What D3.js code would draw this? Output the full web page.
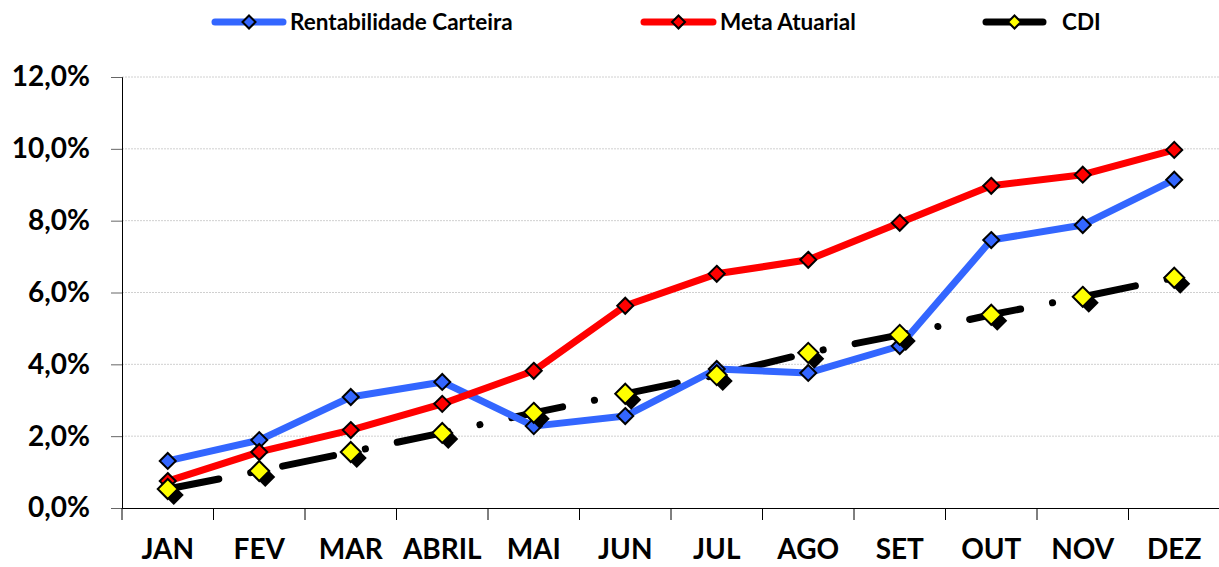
<!DOCTYPE html>
<html>
<head>
<meta charset="utf-8">
<script src="https://cdn.jsdelivr.net/npm/d3@7"></script>
<style>
  body { margin: 0; background: #fff; }
  svg { font-family: Lato, "Open Sans", sans-serif; font-weight: bold; }
</style>
</head>
<body>
<div id="chart"></div>
<script>
// data (percent)
var months = ["JAN", "FEV", "MAR", "ABRIL", "MAI", "JUN", "JUL", "AGO", "SET", "OUT", "NOV", "DEZ"];
var rentabilidade = [1.31, 1.89, 3.09, 3.51, 2.28, 2.56, 3.87, 3.76, 4.51, 7.46, 7.88, 9.14];
var meta = [0.75, 1.56, 2.17, 2.90, 3.82, 5.63, 6.52, 6.91, 7.94, 8.97, 9.28, 9.97];
var cdi = [0.53, 1.03, 1.56, 2.09, 2.65, 3.18, 3.70, 4.32, 4.82, 5.38, 5.88, 6.41];
var yTicks = [0, 2, 4, 6, 8, 10, 12];

var W = 1219, H = 567;
var margin = { top: 77, right: -1, bottom: 59, left: 122 };
var width = W - margin.left - margin.right,
    height = H - margin.top - margin.bottom;

var svg = d3.select("#chart").append("svg")
    .attr("width", W)
    .attr("height", H);

var g = svg.append("g")
    .attr("transform", "translate(" + margin.left + "," + margin.top + ")");

var x = d3.scaleBand().domain(months).range([0, width]);
var y = d3.scaleLinear().domain([0, 12]).range([height, 0]);
var fmt = function(d) { return d.toFixed(1).replace(".", ",") + "%"; };

// gridlines
g.append("g")
    .selectAll("line")
    .data(yTicks.slice(1))
    .enter().append("line")
    .attr("x1", 0).attr("x2", width)
    .attr("y1", function(d) { return y(d); })
    .attr("y2", function(d) { return y(d); })
    .attr("stroke", "#d0d0d0")
    .attr("stroke-dasharray", "2,1");

// y axis
var yAxis = g.append("g")
    .call(d3.axisLeft(y).tickValues(yTicks).tickFormat(fmt).tickSize(11).tickPadding(21));
yAxis.select(".domain").attr("stroke", "#000");
yAxis.selectAll(".tick line").attr("stroke", "#666");
yAxis.selectAll("text").attr("font-size", 28).attr("fill", "#000")
    .attr("font-family", "Lato, sans-serif").attr("font-weight", "bold");

// x axis
var xAxis = g.append("g")
    .attr("transform", "translate(0," + height + ")")
    .call(d3.axisBottom(x).tickSize(0).tickPadding(31));
xAxis.select(".domain").attr("stroke", "#000");
xAxis.selectAll("text").attr("font-size", 28).attr("fill", "#000")
    .attr("font-family", "Lato, sans-serif").attr("font-weight", "bold");
g.append("g")
    .selectAll("line")
    .data(months)
    .enter().append("line")
    .attr("x1", function(d) { return x(d); })
    .attr("x2", function(d) { return x(d); })
    .attr("y1", height).attr("y2", height + 12)
    .attr("stroke", "#000");

var cx = function(d, i) { return x(months[i]) + x.bandwidth() / 2; };
var line = d3.line().x(cx).y(function(d) { return y(d); });
var diamond = function(r) { return "M0," + (-r) + "L" + r + ",0L0," + r + "L" + (-r) + ",0Z"; };

// CDI (dash-dot, with shadowed markers)
g.append("path")
    .datum(cdi)
    .attr("d", line)
    .attr("fill", "none")
    .attr("stroke", "#000")
    .attr("stroke-width", 7)
    .attr("stroke-linecap", "round")
    .attr("stroke-dasharray", "52,32.5,0.1,32.5");

// blue and red lines
var series = [
    { name: "Rentabilidade Carteira", values: rentabilidade, color: "#3366ff" },
    { name: "Meta Atuarial", values: meta, color: "#ff0000" }
];
series.forEach(function(s) {
    g.append("path")
        .datum(s.values)
        .attr("d", line)
        .attr("fill", "none")
        .attr("stroke", s.color)
        .attr("stroke-width", 7)
        .attr("stroke-linejoin", "round");
});
series.forEach(function(s) {
    g.append("g").selectAll("path")
        .data(s.values)
        .enter().append("path")
        .attr("d", diamond(8))
        .attr("transform", function(d, i) { return "translate(" + cx(d, i) + "," + y(d) + ")"; })
        .attr("fill", s.color)
        .attr("stroke", "#000")
        .attr("stroke-width", 2);
});

var cdiMarks = g.append("g").selectAll("g")
    .data(cdi)
    .enter().append("g")
    .attr("transform", function(d, i) { return "translate(" + cx(d, i) + "," + y(d) + ")"; });
cdiMarks.append("path")
    .attr("d", diamond(10))
    .attr("transform", "translate(6,6)")
    .attr("fill", "#000");
cdiMarks.append("path")
    .attr("d", diamond(10))
    .attr("fill", "#ffff00")
    .attr("stroke", "#000")
    .attr("stroke-width", 2);

// legend
var legend = [
    { name: "Rentabilidade Carteira", color: "#3366ff", fill: "#3366ff", x: 215, x2: 283, text: 290 },
    { name: "Meta Atuarial", color: "#ff0000", fill: "#ff0000", x: 644, x2: 713, text: 720 },
    { name: "CDI", color: "#000", fill: "#ffff00", x: 986, x2: 1043, text: 1062 }
];
var lg = svg.append("g").selectAll("g")
    .data(legend)
    .enter().append("g");
lg.append("line")
    .attr("x1", function(d) { return d.x; })
    .attr("x2", function(d) { return d.x2; })
    .attr("y1", 22).attr("y2", 22)
    .attr("stroke", function(d) { return d.color; })
    .attr("stroke-width", 7)
    .attr("stroke-linecap", "round");
lg.append("path")
    .attr("d", diamond(6.5))
    .attr("transform", function(d) { return "translate(" + ((d.x + d.x2) / 2) + ",22)"; })
    .attr("fill", function(d) { return d.fill; })
    .attr("stroke", "#000")
    .attr("stroke-width", 2);
lg.append("text")
    .attr("x", function(d) { return d.text; })
    .attr("y", 30)
    .attr("font-size", 22.5)
    .attr("fill", "#000")
    .text(function(d) { return d.name; });
</script>
</body>
</html>
